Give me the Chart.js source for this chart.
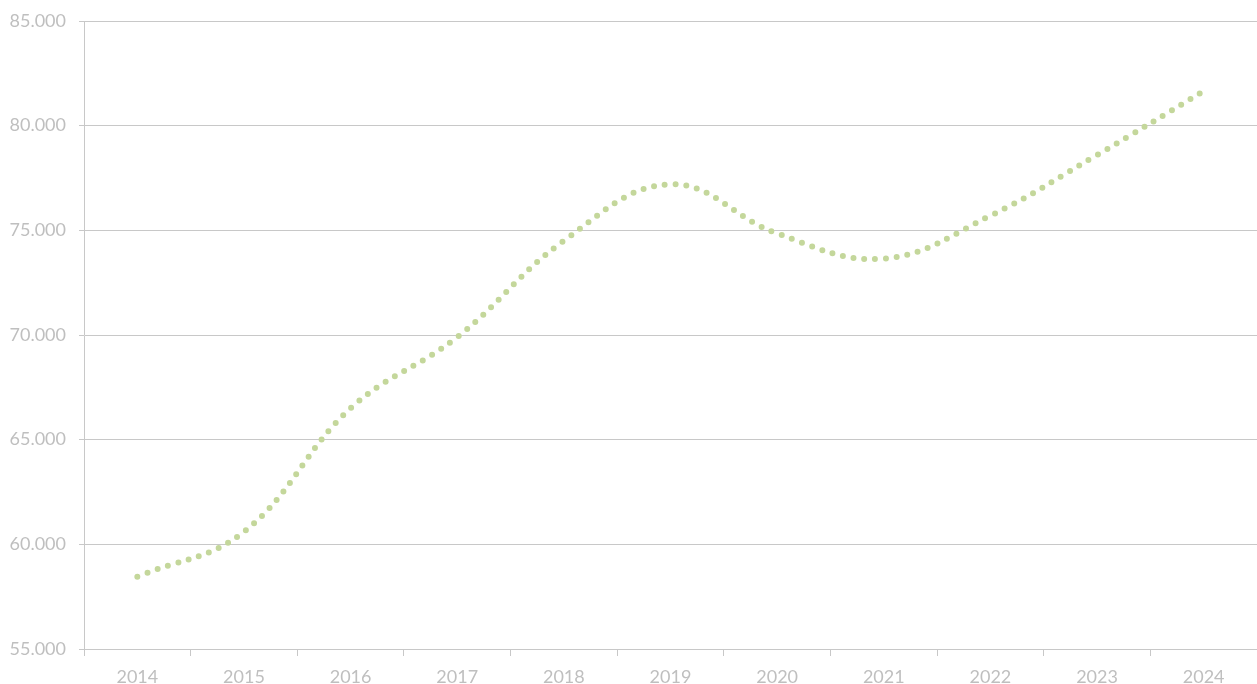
<!DOCTYPE html>
<html>
<head>
<meta charset="utf-8">
<script src="https://cdn.jsdelivr.net/npm/chart.js@4"></script>
<style>
  html, body { margin: 0; padding: 0; background: #fff; }
  #wrap { width: 1257px; height: 684px; }
</style>
</head>
<body>
<div id="wrap"><canvas id="myChart"></canvas></div>
<script>
const years = ["2014", "2015", "2016", "2017", "2018", "2019", "2020", "2021", "2022", "2023", "2024"];
const values = [58.45, 60.6, 66.5, 69.9, 74.5, 77.2, 74.85, 73.65, 75.7, 78.6, 81.65];
const yTicks = [55, 60, 65, 70, 75, 80, 85];

const gridGray = "#c8c8c8";
const labelGray = "#bfbfbf";

document.addEventListener("DOMContentLoaded", () => {
  const ctx = document.getElementById("myChart");
  new Chart(ctx, {
    type: "line",
    data: {
      labels: years,
      datasets: [
        {
          data: values,
          borderColor: "#c4d79b",
          borderWidth: 6,
          borderCapStyle: "round",
          borderDash: [0, 10.8],
          tension: 0.4,
          pointRadius: 0,
          fill: false,
        },
      ],
    },
    options: {
      responsive: true,
      maintainAspectRatio: false,
      animation: false,
      layout: { padding: { top: 21, left: 0, right: 0, bottom: 0 } },
      plugins: { legend: { display: false }, tooltip: { enabled: false } },
      scales: {
        x: {
          offset: true,
          grid: {
            offset: true,
            drawOnChartArea: false,
            color: gridGray,
            tickLength: 7,
          },
          border: { color: gridGray },
          ticks: {
            color: labelGray,
            padding: 10,
            font: { family: "Lato", size: 18 },
            maxRotation: 0,
          },
          afterFit: (axis) => { axis.height = 35; },
        },
        y: {
          min: 55,
          max: 85,
          afterBuildTicks: (axis) => { axis.ticks = yTicks.map((v) => ({ value: v })); },
          grid: { color: gridGray, tickLength: 5 },
          border: { color: gridGray },
          ticks: {
            color: labelGray,
            padding: 13,
            font: { family: "Lato", size: 18 },
            callback: (v) => v.toFixed(0) + ".000",
          },
          afterFit: (axis) => { axis.width = 84; axis.paddingTop = 0; axis.paddingBottom = 0; },
        },
      },
    },
  });
});
</script>
</body>
</html>
